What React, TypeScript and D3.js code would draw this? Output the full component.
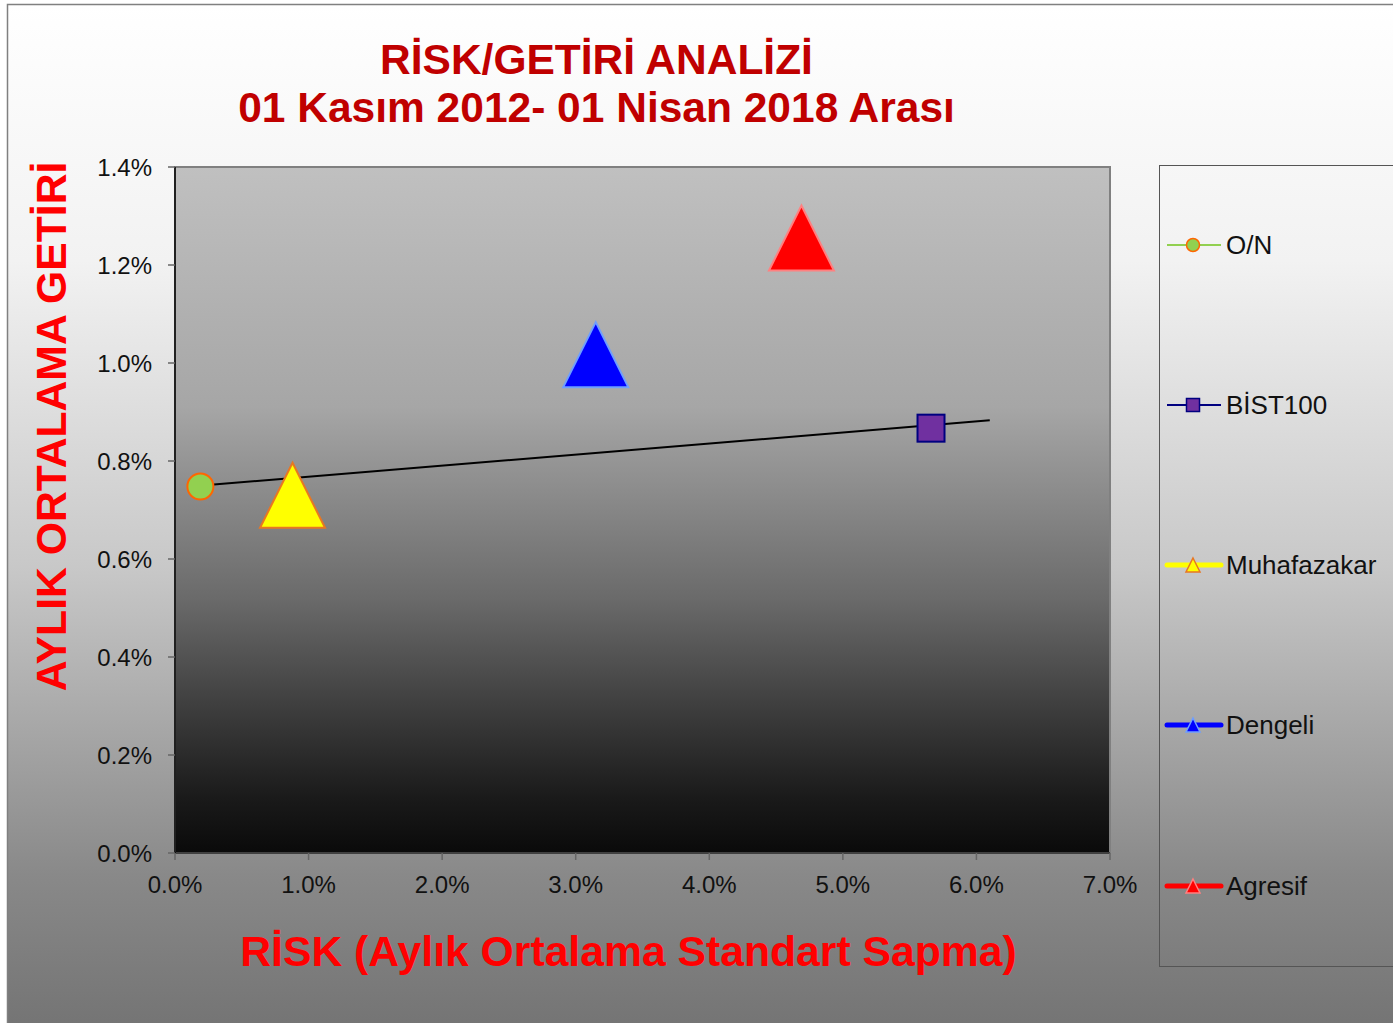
import React from 'react';
import * as d3 from 'd3';

// risk (x, %) and monthly return (y, %) per series
const seriesNames = ['O/N', 'BİST100', 'Muhafazakar', 'Dengeli', 'Agresif'];
const riskValues = [0.19, 5.66, 0.88, 3.15, 4.69];
const returnValues = [0.748, 0.867, 0.730, 1.017, 1.255];

// straight line drawn through O/N and BİST100
const lineRisk = [0.11, 6.1];
const lineReturn = [0.748, 0.883];

const xTicks = [0, 1, 2, 3, 4, 5, 6, 7];
const yTicks = [0, 0.2, 0.4, 0.6, 0.8, 1.0, 1.2, 1.4];

const titleLines = ['RİSK/GETİRİ ANALİZİ', '01 Kasım 2012- 01 Nisan 2018 Arası'];
const xTitle = 'RİSK (Aylık Ortalama Standart Sapma)';
const yTitle = 'AYLIK ORTALAMA GETİRİ';

const W = 1393;
const H = 1023;
const plot = { left: 175, right: 1110, top: 167, bottom: 853 };
const FONT = 'Liberation Sans, Arial, sans-serif';

// marker style per series
const styles = [
  { shape: 'circle', fill: '#92d050', stroke: '#ff6600', line: '#92d050', lineW: 2, size: 26 },
  { shape: 'square', fill: '#7030a0', stroke: '#000080', line: '#000080', lineW: 2, size: 27 },
  { shape: 'triangle', fill: '#ffff00', stroke: '#e87722', line: '#ffff00', lineW: 5, size: 65 },
  { shape: 'triangle', fill: '#0000ff', stroke: '#6f9fff', line: '#0000ff', lineW: 5, size: 65 },
  { shape: 'triangle', fill: '#ff0000', stroke: '#ff8080', line: '#ff0000', lineW: 5, size: 65 },
];

const marker = (shape: string, cx: number, cy: number, s: number, fill: string, stroke: string, sw: number, key?: any) => {
  const h = s / 2;
  if (shape === 'circle') return <circle key={key} cx={cx} cy={cy} r={h} fill={fill} stroke={stroke} strokeWidth={sw} />;
  if (shape === 'square') return <rect key={key} x={cx - h} y={cy - h} width={s} height={s} fill={fill} stroke={stroke} strokeWidth={sw} />;
  const p = d3.path();
  p.moveTo(cx, cy - h);
  p.lineTo(cx + h, cy + h);
  p.lineTo(cx - h, cy + h);
  p.closePath();
  return <path key={key} d={p.toString()} fill={fill} stroke={stroke} strokeWidth={sw} strokeLinejoin="miter" />;
};

export default function App() {
  const x = d3.scaleLinear().domain([0, 7]).range([plot.left, plot.right]);
  const y = d3.scaleLinear().domain([0, 1.4]).range([plot.bottom, plot.top]);
  const fmt = d3.format('.1f');

  const trend = d3.line<number>()
    .x((d) => x(lineRisk[d]))
    .y((d) => y(lineReturn[d]));

  const legendX = 1159;
  const legendY = [245, 405, 565, 725, 886];

  return (
    <svg width={W} height={H} style={{ position: 'absolute', left: 0, top: 0 }}>
      <defs>
        <linearGradient id="bg" x1="0" y1="0" x2="0" y2="1">
          <stop offset="0" stopColor="#ffffff" />
          <stop offset="0.25" stopColor="#f2f2f2" />
          <stop offset="0.55" stopColor="#c8c8c8" />
          <stop offset="0.85" stopColor="#898989" />
          <stop offset="1" stopColor="#747474" />
        </linearGradient>
        <linearGradient id="plotbg" x1="0" y1="0" x2="0" y2="1">
          <stop offset="0" stopColor="#c0c0c0" />
          <stop offset="0.35" stopColor="#a6a6a6" />
          <stop offset="0.63" stopColor="#6a6a6a" />
          <stop offset="0.78" stopColor="#404040" />
          <stop offset="0.92" stopColor="#1a1a1a" />
          <stop offset="1" stopColor="#0a0a0a" />
        </linearGradient>
      </defs>

      <rect x={7.5} y={4.5} width={W} height={H} fill="url(#bg)" stroke="#808080" strokeWidth={1.5} />

      {titleLines.map((t, i) => (
        <text key={t} x={596.5} y={74 + i * 48} textAnchor="middle" fontFamily={FONT} fontWeight="bold"
          fontSize={42.5} fill="#c00000">{t}</text>
      ))}

      <rect x={plot.left} y={plot.top} width={plot.right - plot.left} height={plot.bottom - plot.top}
        fill="url(#plotbg)" stroke="#808080" strokeWidth={2} />
      <line x1={plot.left} x2={plot.left} y1={plot.top} y2={plot.bottom} stroke="#000" strokeWidth={1.5} />
      <line x1={plot.left} x2={plot.right} y1={plot.bottom} y2={plot.bottom} stroke="#000" strokeWidth={1} />

      {yTicks.map((t) => (
        <g key={'y' + t}>
          <line x1={plot.left - 7} x2={plot.left} y1={y(t)} y2={y(t)} stroke="#666" strokeWidth={1.5} />
          <text x={152} y={y(t) + 9} textAnchor="end" fontFamily={FONT} fontSize={24} fill="#111">{fmt(t)}%</text>
        </g>
      ))}
      {xTicks.map((t) => (
        <g key={'x' + t}>
          <line x1={x(t)} x2={x(t)} y1={plot.bottom} y2={plot.bottom + 7} stroke="#666" strokeWidth={1.5} />
          <text x={x(t)} y={893} textAnchor="middle" fontFamily={FONT} fontSize={24} fill="#111">{fmt(t)}%</text>
        </g>
      ))}

      <path d={trend([0, 1]) || ''} fill="none" stroke="#000" strokeWidth={2} />

      {seriesNames.map((n, i) => {
        const s = styles[i];
        return marker(s.shape, x(riskValues[i]), y(returnValues[i]), s.size, s.fill, s.stroke, 2, n);
      })}

      <text x={628.5} y={966} textAnchor="middle" fontFamily={FONT} fontWeight="bold" fontSize={42.7} fill="#ff0000">{xTitle}</text>
      <text transform={`translate(66,426.5) rotate(-90)`} textAnchor="middle" fontFamily={FONT} fontWeight="bold"
        fontSize={42.7} fill="#ff0000">{yTitle}</text>

      <rect x={legendX + 0.5} y={165.5} width={260} height={801} fill="none" stroke="#555" strokeWidth={1} />
      {seriesNames.map((n, i) => {
        const s = styles[i];
        const ly = legendY[i];
        const ms = s.shape === 'triangle' ? 14 : 13;
        return (
          <g key={'lg' + n}>
            <line x1={legendX + 8} x2={legendX + 62} y1={ly} y2={ly} stroke={s.line} strokeWidth={s.lineW}
              strokeLinecap={s.lineW > 3 ? 'round' : 'butt'} />
            {marker(s.shape, legendX + 34, ly, ms, s.fill, s.stroke, 1.5)}
            <text x={legendX + 67} y={ly + 9} fontFamily={FONT} fontSize={26} fill="#111">{n}</text>
          </g>
        );
      })}
    </svg>
  );
}
